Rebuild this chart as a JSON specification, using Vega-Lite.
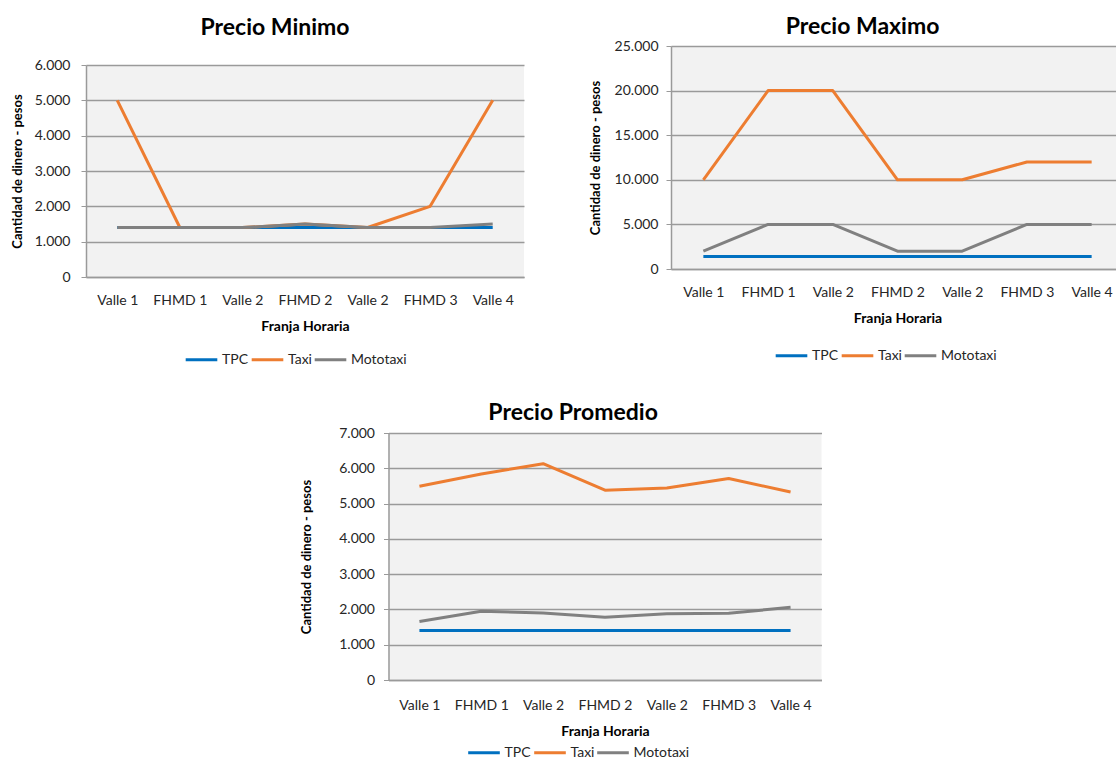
{
  "$schema": "https://vega.github.io/schema/vega-lite/v6.json",
  "background": "white",
  "padding": {"left": 11, "top": 16, "right": 0, "bottom": 0},
  "config": {
    "font": "Lato",
    "view": {"fill": "#f2f2f2", "stroke": null},
    "title": {"fontSize": 23, "fontWeight": "bold", "color": "#000000", "anchor": "middle", "frame": "bounds"},
    "axis": {
      "labelFont": "Lato",
      "labelFontSize": 14,
      "labelColor": "#262626",
      "titleFont": "Lato",
      "titleFontSize": 14,
      "titleFontWeight": "bold",
      "titleColor": "#000000",
      "domainColor": "#9a9a9a",
      "domainWidth": 1.5,
      "tickColor": "#9a9a9a",
      "gridColor": "#9a9a9a",
      "gridWidth": 1.3
    },
    "axisX": {"grid": false, "ticks": false, "labelAngle": 0, "labelPadding": 16, "titlePadding": 12},
    "axisY": {"grid": true, "ticks": true, "tickSize": 5, "titleFontSize": 13},
    "legend": {
      "orient": "none",
      "direction": "horizontal",
      "title": null,
      "symbolType": "stroke",
      "symbolSize": 1000,
      "symbolStrokeWidth": 4,
      "labelFont": "Lato",
      "labelFontSize": 14,
      "labelColor": "#262626",
      "labelOffset": 3,
      "columnPadding": 1
    },
    "line": {"strokeWidth": 3, "strokeJoin": "round"}
  },
  "datasets": {
    "minimo": [
      {"slot": 1, "franja": "Valle 1", "modo": "TPC", "precio": 1400},
      {"slot": 2, "franja": "FHMD 1", "modo": "TPC", "precio": 1400},
      {"slot": 3, "franja": "Valle 2", "modo": "TPC", "precio": 1400},
      {"slot": 4, "franja": "FHMD 2", "modo": "TPC", "precio": 1400},
      {"slot": 5, "franja": "Valle 2", "modo": "TPC", "precio": 1400},
      {"slot": 6, "franja": "FHMD 3", "modo": "TPC", "precio": 1400},
      {"slot": 7, "franja": "Valle 4", "modo": "TPC", "precio": 1400},
      {"slot": 1, "franja": "Valle 1", "modo": "Taxi", "precio": 5000},
      {"slot": 2, "franja": "FHMD 1", "modo": "Taxi", "precio": 1400},
      {"slot": 3, "franja": "Valle 2", "modo": "Taxi", "precio": 1400},
      {"slot": 4, "franja": "FHMD 2", "modo": "Taxi", "precio": 1500},
      {"slot": 5, "franja": "Valle 2", "modo": "Taxi", "precio": 1400},
      {"slot": 6, "franja": "FHMD 3", "modo": "Taxi", "precio": 2000},
      {"slot": 7, "franja": "Valle 4", "modo": "Taxi", "precio": 5000},
      {"slot": 1, "franja": "Valle 1", "modo": "Mototaxi", "precio": 1400},
      {"slot": 2, "franja": "FHMD 1", "modo": "Mototaxi", "precio": 1400},
      {"slot": 3, "franja": "Valle 2", "modo": "Mototaxi", "precio": 1400},
      {"slot": 4, "franja": "FHMD 2", "modo": "Mototaxi", "precio": 1500},
      {"slot": 5, "franja": "Valle 2", "modo": "Mototaxi", "precio": 1400},
      {"slot": 6, "franja": "FHMD 3", "modo": "Mototaxi", "precio": 1400},
      {"slot": 7, "franja": "Valle 4", "modo": "Mototaxi", "precio": 1500}
    ],
    "maximo": [
      {"slot": 1, "franja": "Valle 1", "modo": "TPC", "precio": 1400},
      {"slot": 2, "franja": "FHMD 1", "modo": "TPC", "precio": 1400},
      {"slot": 3, "franja": "Valle 2", "modo": "TPC", "precio": 1400},
      {"slot": 4, "franja": "FHMD 2", "modo": "TPC", "precio": 1400},
      {"slot": 5, "franja": "Valle 2", "modo": "TPC", "precio": 1400},
      {"slot": 6, "franja": "FHMD 3", "modo": "TPC", "precio": 1400},
      {"slot": 7, "franja": "Valle 4", "modo": "TPC", "precio": 1400},
      {"slot": 1, "franja": "Valle 1", "modo": "Taxi", "precio": 10000},
      {"slot": 2, "franja": "FHMD 1", "modo": "Taxi", "precio": 20000},
      {"slot": 3, "franja": "Valle 2", "modo": "Taxi", "precio": 20000},
      {"slot": 4, "franja": "FHMD 2", "modo": "Taxi", "precio": 10000},
      {"slot": 5, "franja": "Valle 2", "modo": "Taxi", "precio": 10000},
      {"slot": 6, "franja": "FHMD 3", "modo": "Taxi", "precio": 12000},
      {"slot": 7, "franja": "Valle 4", "modo": "Taxi", "precio": 12000},
      {"slot": 1, "franja": "Valle 1", "modo": "Mototaxi", "precio": 2000},
      {"slot": 2, "franja": "FHMD 1", "modo": "Mototaxi", "precio": 5000},
      {"slot": 3, "franja": "Valle 2", "modo": "Mototaxi", "precio": 5000},
      {"slot": 4, "franja": "FHMD 2", "modo": "Mototaxi", "precio": 2000},
      {"slot": 5, "franja": "Valle 2", "modo": "Mototaxi", "precio": 2000},
      {"slot": 6, "franja": "FHMD 3", "modo": "Mototaxi", "precio": 5000},
      {"slot": 7, "franja": "Valle 4", "modo": "Mototaxi", "precio": 5000}
    ],
    "promedio": [
      {"slot": 1, "franja": "Valle 1", "modo": "TPC", "precio": 1400},
      {"slot": 2, "franja": "FHMD 1", "modo": "TPC", "precio": 1400},
      {"slot": 3, "franja": "Valle 2", "modo": "TPC", "precio": 1400},
      {"slot": 4, "franja": "FHMD 2", "modo": "TPC", "precio": 1400},
      {"slot": 5, "franja": "Valle 2", "modo": "TPC", "precio": 1400},
      {"slot": 6, "franja": "FHMD 3", "modo": "TPC", "precio": 1400},
      {"slot": 7, "franja": "Valle 4", "modo": "TPC", "precio": 1400},
      {"slot": 1, "franja": "Valle 1", "modo": "Taxi", "precio": 5490},
      {"slot": 2, "franja": "FHMD 1", "modo": "Taxi", "precio": 5840},
      {"slot": 3, "franja": "Valle 2", "modo": "Taxi", "precio": 6130},
      {"slot": 4, "franja": "FHMD 2", "modo": "Taxi", "precio": 5380},
      {"slot": 5, "franja": "Valle 2", "modo": "Taxi", "precio": 5440},
      {"slot": 6, "franja": "FHMD 3", "modo": "Taxi", "precio": 5710},
      {"slot": 7, "franja": "Valle 4", "modo": "Taxi", "precio": 5330},
      {"slot": 1, "franja": "Valle 1", "modo": "Mototaxi", "precio": 1660},
      {"slot": 2, "franja": "FHMD 1", "modo": "Mototaxi", "precio": 1950},
      {"slot": 3, "franja": "Valle 2", "modo": "Mototaxi", "precio": 1900},
      {"slot": 4, "franja": "FHMD 2", "modo": "Mototaxi", "precio": 1780},
      {"slot": 5, "franja": "Valle 2", "modo": "Mototaxi", "precio": 1880},
      {"slot": 6, "franja": "FHMD 3", "modo": "Mototaxi", "precio": 1890},
      {"slot": 7, "franja": "Valle 4", "modo": "Mototaxi", "precio": 2060}
    ]
  },
  "vconcat": [
    {
      "hconcat": [
        {
          "vconcat": [
            {
              "title": {"text": "Precio Minimo", "offset": 6, "dx": -30},
              "width": 438,
              "height": 1,
              "view": {"fill": null, "stroke": null},
              "data": {"values": []},
              "mark": "point"
            },
            {
              "width": 438,
              "height": 212,
              "data": {"name": "minimo"},
              "mark": "line",
              "encoding": {
                "x": {
                  "field": "slot", "type": "ordinal",
                  "scale": {"type": "point", "padding": 0.5},
                  "axis": {"title": "Franja Horaria", "labelExpr": "['Valle 1','FHMD 1','Valle 2','FHMD 2','Valle 2','FHMD 3','Valle 4'][datum.value - 1]"}
                },
                "y": {
                  "field": "precio", "type": "quantitative",
                  "scale": {"domain": [0, 6000], "nice": false},
                  "axis": {"values": [0, 1000, 2000, 3000, 4000, 5000, 6000], "labelPadding": 11, "titlePadding": 10, "title": "Cantidad de dinero - pesos", "labelExpr": "replace(format(datum.value, ','), ',', '.')"}
                },
                "color": {
                  "field": "modo", "type": "nominal",
                  "scale": {"domain": ["TPC", "Taxi", "Mototaxi"], "range": ["#0070c0", "#ed7d31", "#808080"]},
                  "legend": {"legendX": 98, "legendY": 296}
                }
              }
            }
          ],
          "spacing": 11
        },
        {
          "title": {"text": "Precio Maximo", "offset": 0, "dx": 6},
          "width": 453,
          "height": 223,
          "data": {"name": "maximo"},
          "mark": "line",
          "encoding": {
            "x": {
              "field": "slot", "type": "ordinal",
              "scale": {"type": "point", "padding": 0.5},
              "axis": {"title": "Franja Horaria", "labelExpr": "['Valle 1','FHMD 1','Valle 2','FHMD 2','Valle 2','FHMD 3','Valle 4'][datum.value - 1]"}
            },
            "y": {
              "field": "precio", "type": "quantitative",
              "scale": {"domain": [0, 25000], "nice": false},
              "axis": {"values": [0, 5000, 10000, 15000, 20000, 25000], "labelPadding": 8, "titlePadding": 12, "title": "Cantidad de dinero - pesos", "labelExpr": "replace(format(datum.value, ','), ',', '.')"}
            },
            "color": {
              "field": "modo", "type": "nominal",
              "scale": {"domain": ["TPC", "Taxi", "Mototaxi"], "range": ["#0070c0", "#ed7d31", "#808080"]},
              "legend": {"legendX": 103, "legendY": 292}
            }
          }
        }
      ],
      "spacing": 65,
      "resolve": {"legend": {"color": "independent"}}
    },
    {
      "title": {"text": "Precio Promedio", "offset": 1, "dx": 12},
      "width": 433,
      "height": 247,
      "data": {"name": "promedio"},
      "mark": "line",
      "encoding": {
        "x": {
          "field": "slot", "type": "ordinal",
          "scale": {"type": "point", "padding": 0.5},
          "axis": {"title": "Franja Horaria", "labelPadding": 18, "titlePadding": 12, "labelExpr": "['Valle 1','FHMD 1','Valle 2','FHMD 2','Valle 2','FHMD 3','Valle 4'][datum.value - 1]"}
        },
        "y": {
          "field": "precio", "type": "quantitative",
          "scale": {"domain": [0, 7000], "nice": false},
          "axis": {"values": [0, 1000, 2000, 3000, 4000, 5000, 6000, 7000], "labelPadding": 9, "titlePadding": 25, "title": "Cantidad de dinero - pesos", "labelExpr": "replace(format(datum.value, ','), ',', '.')"}
        },
        "color": {
          "field": "modo", "type": "nominal",
          "scale": {"domain": ["TPC", "Taxi", "Mototaxi"], "range": ["#0070c0", "#ed7d31", "#808080"]},
          "legend": {"legendX": 78, "legendY": 302}
        }
      }
    }
  ],
  "spacing": 35,
  "center": true,
  "resolve": {"legend": {"color": "independent"}}
}
